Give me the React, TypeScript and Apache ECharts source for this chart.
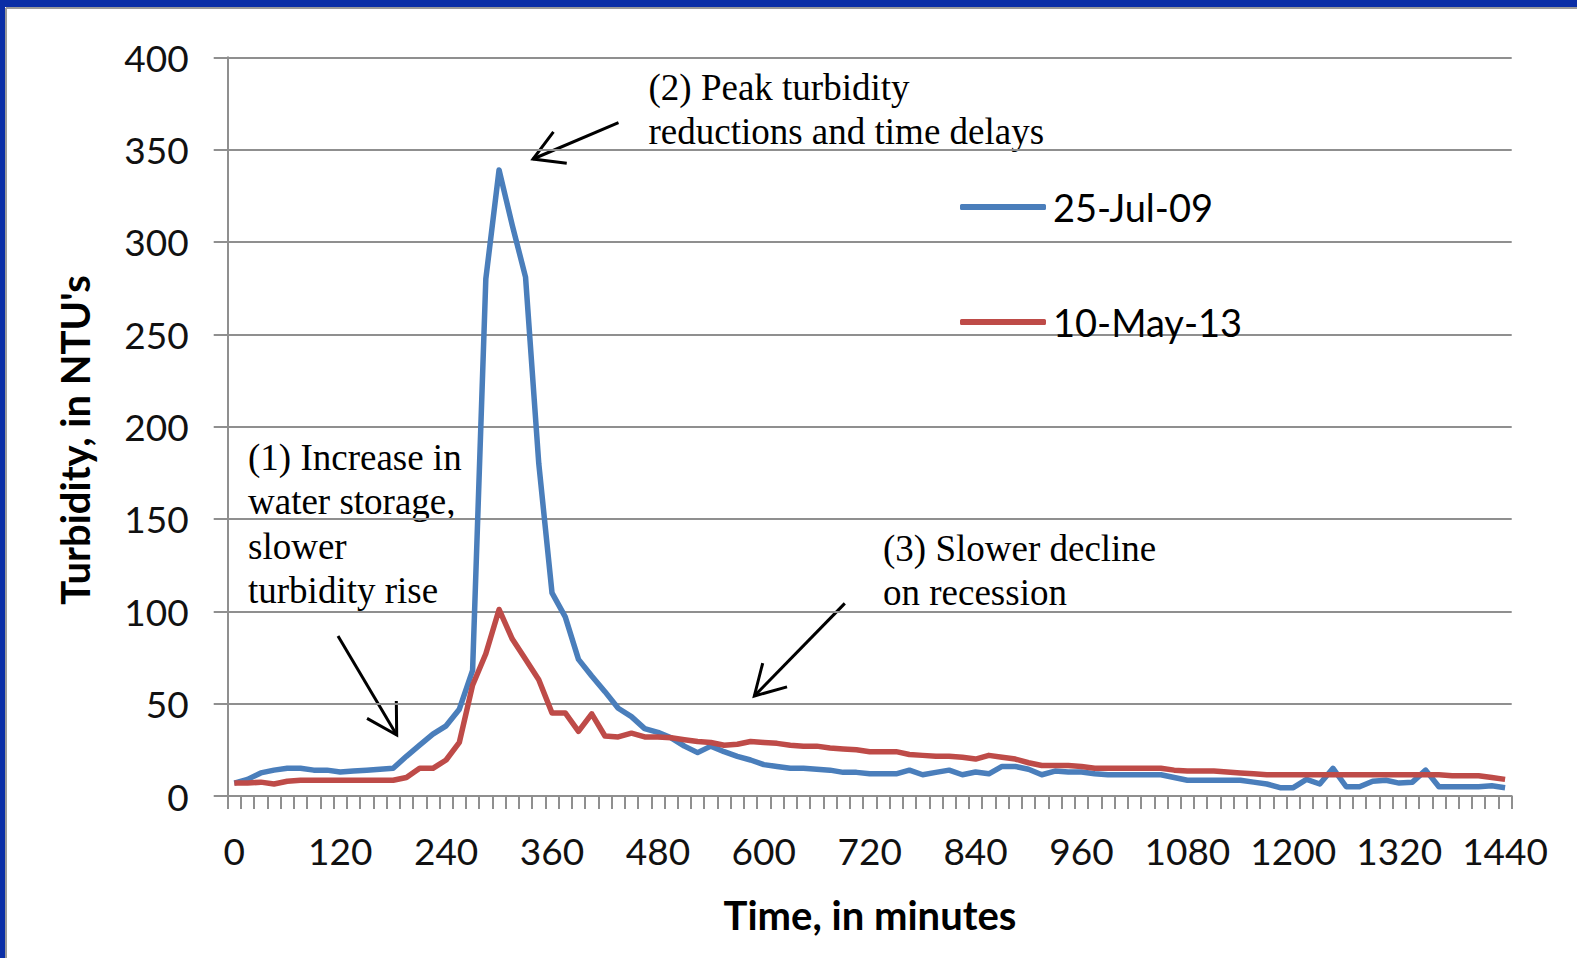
import React, { useEffect, useRef } from "react";
import * as echarts from "echarts";

const minutes: string[] = Array.from({ length: 97 }, (_, i) => String(i * 15));

const seriesNames = ["25-Jul-09", "10-May-13"];

const jul09: number[] = [
  7, 9, 12.5, 14, 15, 15, 14, 14, 13, 13.5,
  14, 14.5, 15, 21.5, 27.5, 33.5, 38, 47, 68, 280,
  339, 309, 281, 180, 110, 97, 74, 65, 56.5, 47.5,
  43, 36.5, 34.5, 31.5, 27, 23.5, 27, 24, 21.5, 19.5,
  17, 16, 15, 15, 14.5, 14, 12.8, 12.8, 12, 12,
  12, 14, 11.5, 12.8, 14, 11.5, 13, 12, 16, 16,
  14.5, 11.5, 13.5, 13, 13, 12, 11.5, 11.5, 11.5, 11.5,
  11.5, 10, 8.5, 8.5, 8.5, 8.5, 8.5, 7.5, 6.5, 4.5,
  4.5, 9, 6.5, 15, 5, 5, 8, 8.5, 7, 7.5,
  14, 5, 5, 5, 5, 5.5, 4.5,
];

const may13: number[] = [
  7, 7, 7.5, 6.5, 8, 8.5, 8.5, 8.5, 8.5, 8.5,
  8.5, 8.5, 8.5, 10, 15, 15, 19.5, 29, 60, 77,
  101, 85, 74, 63, 45, 45, 35, 44.5, 32.5, 32,
  34, 32, 32, 31.5, 30.5, 29.5, 29, 27.5, 28, 29.5,
  29, 28.5, 27.5, 27, 27, 26, 25.5, 25, 24, 24,
  24, 22.5, 22, 21.5, 21.5, 21, 20, 22, 21, 20,
  18, 16.5, 16.5, 16.5, 16, 15, 15, 15, 15, 15,
  15, 14, 13.5, 13.5, 13.5, 13, 12.5, 12, 11.5, 11.5,
  11.5, 11.5, 11.5, 11.5, 11.5, 11.5, 11.5, 11.5, 11.5, 11.5,
  11.5, 11.5, 11, 11, 11, 10, 9,
];

const yTitle = "Turbidity, in NTU's";
const xTitle = "Time, in minutes";
const note1 = ["(1) Increase in", "water storage,", "slower", "turbidity rise"];
const note2 = ["(2) Peak turbidity", "reductions and time delays"];
const note3 = ["(3) Slower decline", "on recession"];

const BLUE = "#4a7ebb";
const RED = "#be4b48";
const GRID = "#8f8f8f";
const FRAME = "#0a2ea6";
const SANS = "Lato, 'Liberation Sans', sans-serif";
const SERIF = "'Liberation Serif', 'Times New Roman', serif";

function arrow(x1: number, y1: number, x2: number, y2: number) {
  const a = Math.atan2(y2 - y1, x2 - x1) + Math.PI;
  const len = 34;
  const s = Math.PI / 6;
  const p1 = [x2 + len * Math.cos(a - s), y2 + len * Math.sin(a - s)];
  const p2 = [x2 + len * Math.cos(a + s), y2 + len * Math.sin(a + s)];
  return [
    { type: "line", shape: { x1, y1, x2, y2 }, style: { stroke: "#000", lineWidth: 3 } },
    {
      type: "polyline",
      shape: { points: [p1, [x2, y2], p2] },
      style: { stroke: "#000", lineWidth: 3, fill: null },
    },
  ];
}

function noteLines(lines: string[], x: number, y0: number, gap: number) {
  return lines.map((t, k) => ({
    type: "text",
    x,
    y: y0 + k * gap,
    style: {
      text: t,
      font: `37px ${SERIF}`,
      fill: "#000",
      verticalAlign: "middle",
      align: "left",
    },
  }));
}

export default function App() {
  const ref = useRef<HTMLDivElement>(null);
  useEffect(() => {
    document.body.style.margin = "0";
    const chart = echarts.init(ref.current!, undefined, { renderer: "svg" });
    const legendText = { fontSize: 38, fontFamily: SANS, color: "#000", lineHeight: 40, padding: [0, 0, 0, 2] };
    chart.setOption({
      animation: false,
      backgroundColor: "#ffffff",
      grid: { left: 227.7, right: 65.3, top: 57.3, bottom: 162, containLabel: false },
      legend: [
        {
          data: [seriesNames[0]],
          left: 955,
          top: 182,
          icon: "roundRect",
          itemWidth: 86,
          itemHeight: 6,
          textStyle: legendText,
        },
        {
          data: [seriesNames[1]],
          left: 955,
          top: 297,
          icon: "roundRect",
          itemWidth: 86,
          itemHeight: 6,
          textStyle: legendText,
        },
      ],
      xAxis: {
        type: "category",
        data: minutes,
        boundaryGap: true,
        axisLine: { show: true, lineStyle: { color: GRID, width: 2 } },
        axisTick: { show: true, interval: 0, length: 13, lineStyle: { color: GRID, width: 2 } },
        axisLabel: { interval: 7, fontSize: 37, fontFamily: SANS, color: "#111", margin: 36 },
        splitLine: { show: false },
      },
      yAxis: {
        type: "value",
        min: 0,
        max: 400,
        interval: 50,
        axisLine: { show: true, lineStyle: { color: GRID, width: 2 } },
        axisTick: { show: true, length: 14, lineStyle: { color: GRID, width: 2 } },
        axisLabel: { fontSize: 37, fontFamily: SANS, color: "#111", margin: 39 },
        splitLine: { show: true, lineStyle: { color: GRID, width: 2 } },
      },
      series: [
        {
          name: seriesNames[0],
          type: "line",
          data: jul09,
          showSymbol: false,
          symbol: "none",
          lineStyle: { color: BLUE, width: 5.5, join: "round" },
          itemStyle: { color: BLUE },
          z: 3,
        },
        {
          name: seriesNames[1],
          type: "line",
          data: may13,
          showSymbol: false,
          symbol: "none",
          lineStyle: { color: RED, width: 5.5, join: "round" },
          itemStyle: { color: RED },
          z: 4,
        },
      ],
      graphic: [
        { type: "rect", shape: { x: 0, y: 0, width: 1577, height: 7 }, style: { fill: FRAME }, z: 10 },
        { type: "rect", shape: { x: 0, y: 0, width: 5, height: 958 }, style: { fill: FRAME }, z: 10 },
        { type: "line", shape: { x1: 6, y1: 8, x2: 1577, y2: 8 }, style: { stroke: "#9a9a9a", lineWidth: 2 }, z: 10 },
        { type: "line", shape: { x1: 6, y1: 8, x2: 6, y2: 958 }, style: { stroke: "#9a9a9a", lineWidth: 2 }, z: 10 },
        {
          type: "text",
          x: 75,
          y: 440,
          rotation: Math.PI / 2,
          style: {
            text: yTitle,
            font: `bold 40px ${SANS}`,
            fill: "#000",
            align: "center",
            verticalAlign: "middle",
          },
        },
        {
          type: "text",
          x: 870,
          y: 915,
          style: {
            text: xTitle,
            font: `bold 40px ${SANS}`,
            fill: "#000",
            align: "center",
            verticalAlign: "middle",
          },
        },
        ...noteLines(note1, 248, 457.6, 44.2),
        ...noteLines(note2, 648.5, 87.5, 44.2),
        ...noteLines(note3, 883, 548, 44.2),
        ...arrow(338, 636, 396.7, 735),
        ...arrow(618.5, 122.7, 533, 159),
        ...arrow(844.8, 603.4, 754.3, 696),
      ],
    });
    return () => chart.dispose();
  }, []);
  return <div ref={ref} style={{ position: "absolute", left: 0, top: 0, width: 1577, height: 958 }} />;
}
